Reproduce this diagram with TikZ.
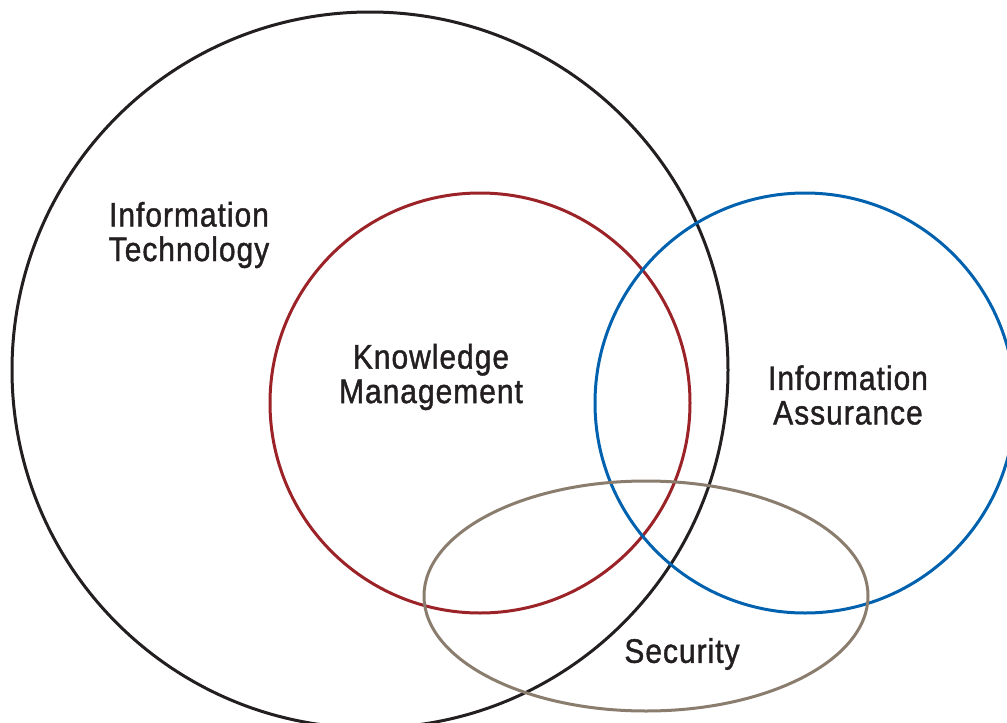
\documentclass[tikz,border=0pt]{standalone}
\usepackage{fontspec}
\setmainfont[FakeStretch=0.88, FakeBold=1.2, LetterSpace=3]{Liberation Sans}
\usepackage{tikz}
\usetikzlibrary{positioning, shapes.geometric}
\usepackage{color}
\definecolor{Venn-k}{RGB}{35,31,32}
\definecolor{Venn-r}{RGB}{155,35,40}
\definecolor{Venn-b}{RGB}{0,97,175}
\definecolor{Venn-g}{RGB}{138,125,110}

\begin{document}
\begin{tikzpicture}[x=1pt, y=-1pt]
          \tikzset{ set/.style  ={circle, draw, line width=3pt, inner sep=0pt} }
          \tikzset{ oval/.style ={ellipse, draw=Venn-g, line width=3pt, inner sep=0pt, minimum width=444pt, minimum height=230pt} }
          \tikzset{ lbl/.style  ={text=Venn-k, align=center, font=\fontsize{34}{34.5}\selectfont} }

          \useasboundingbox (0,0) rectangle (1007,723);
          \clip (0,0) rectangle (1007,723);

          \node[set, draw=Venn-k, minimum size=716pt] (it) at (370, 370) {};
          \node[set, draw=Venn-r, minimum size=420pt] (km) at (480, 403) {};
          \node[set, draw=Venn-b, minimum size=420pt] (ia) at (805, 403) {};
          \node[oval] (sec) at (646, 596) {};

          \node[lbl] (it_t)  at (189, 235) {Information\\Technology};
          \node[lbl] (km_t)  at (431, 377) {Knowledge\\Management};
          \node[lbl] (ia_t)  at (848, 395) {Information\\Assurance};
          \node[lbl] (sec_t) at (682, 654) {Security};
      \end{tikzpicture}
\end{document}
